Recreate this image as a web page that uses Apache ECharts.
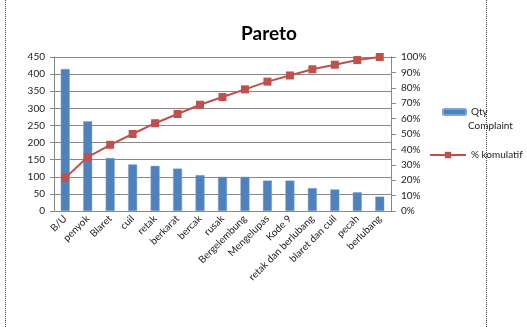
<!DOCTYPE html>
<html><head><meta charset="utf-8">
<script src="https://cdn.jsdelivr.net/npm/echarts@6/dist/echarts.min.js"></script>
<style>html,body{margin:0;padding:0;background:#fff}#c{width:527px;height:327px}</style>
</head><body><div id="c"></div>
<script>
const categories = ['B/U','penyok','Blaret','cuil','retak','berkarat','bercak','rusak','Bergelembung','Mengelupas','Kode 9','retak dan berlubang','blaret dan cuil','pecah','berlubang'];
const qtyComplaint = [415,262,155,136,132,124,105,100,100,89,89,67,63,55,42];
const komulatif = [21.5,35,43,50,57,63,69,74,79,84,88,92,95,98,100];
const leftTicks = [0,50,100,150,200,250,300,350,400,450];

const font = 'Lato, "Open Sans", sans-serif';
const chart = echarts.init(document.getElementById('c'));
chart.setOption({
  animation:false,
  backgroundColor:'#fff',
  title:{text:'Pareto',left:264,top:19,textAlign:'center',textStyle:{fontFamily:font,fontSize:19,fontWeight:'bold',color:'#000'}},
  grid:{left:54,right:136,top:57,bottom:116},
  legend:[
    {data:['Qty Complaint'],orient:'vertical',left:437,top:100,itemWidth:23,itemHeight:6,
     formatter:n=>n.split(' ')[0],textStyle:{fontFamily:font,fontSize:10,color:'#222',lineHeight:14}},
    {data:['% komulatif'],left:424,top:143,itemWidth:36,itemHeight:8,
     textStyle:{fontFamily:font,fontSize:10,color:'#222',lineHeight:14}}
  ],
  xAxis:{type:'category',data:categories,
    axisLine:{lineStyle:{color:'#888'}},axisTick:{show:false},
    axisLabel:{rotate:45,interval:0,fontFamily:font,fontSize:10,color:'#222',margin:6}},
  yAxis:[
    {type:'value',min:0,max:450,interval:50,
     axisLine:{show:true,lineStyle:{color:'#888'}},axisTick:{show:true,length:4,lineStyle:{color:'#888'}},
     splitLine:{lineStyle:{color:'#888'}},
     axisLabel:{fontFamily:font,fontSize:10,color:'#222',margin:9}},
    {type:'value',min:0,max:100,interval:10,position:'right',
     axisLine:{show:true,lineStyle:{color:'#888'}},axisTick:{show:true,length:5,lineStyle:{color:'#888'}},
     splitLine:{show:false},
     axisLabel:{formatter:'{value}%',fontFamily:font,fontSize:10,color:'#222',margin:10}}
  ],
  series:[
    {name:'Qty Complaint',type:'bar',data:qtyComplaint,barWidth:9,
     itemStyle:{color:'#4F81BD',borderColor:'#7FA3D3',borderWidth:0.5}},
    {name:'% komulatif',type:'line',yAxisIndex:1,data:komulatif,symbol:'rect',symbolSize:8,
     lineStyle:{color:'#C0504D',width:2},itemStyle:{color:'#C0504D'}}
  ],
  graphic:[
    {type:'text',left:468,top:121,style:{text:'Complaint',fontFamily:font,fontSize:10,fill:'#222'}},
    {type:'line',shape:{x1:5.5,y1:0,x2:5.5,y2:327},style:{stroke:'#444',lineWidth:1,lineDash:[1,1]}},
    {type:'line',shape:{x1:486.5,y1:0,x2:486.5,y2:327},style:{stroke:'#444',lineWidth:1,lineDash:[1,1]}}
  ]
});
</script></body></html>
